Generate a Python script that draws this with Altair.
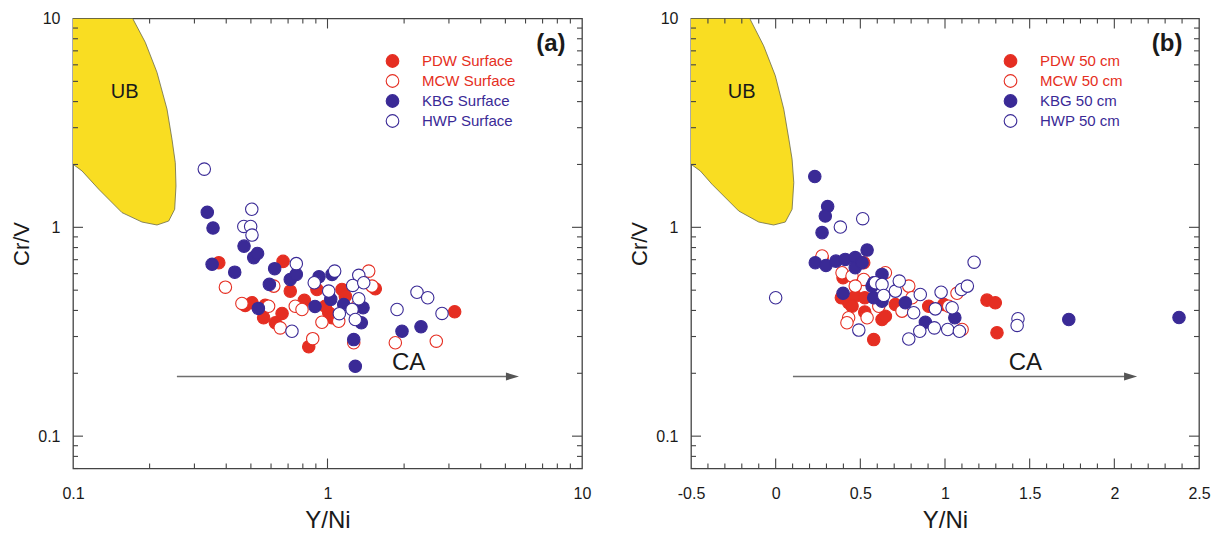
import altair as alt
import pandas as pd

FONT = "Liberation Sans"
RED = "#E52E22"
BLUE = "#3A2A96"
YELLOW = "#F9DD22"
GRAY = "#444444"
TXT = "#1a1a1a"

# ---------------- panel (a): surface samples ----------------
names_a = ["PDW Surface", "MCW Surface", "KBG Surface", "HWP Surface"]
a_pdw_x = [0.374, 0.475, 0.505, 0.569, 0.561, 0.624, 0.663, 0.669, 0.714, 0.811, 0.844, 0.909, 1.011, 1.042, 1.14, 1.175, 1.541, 3.16, 0.98]
a_pdw_y = [0.677, 0.423, 0.435, 0.423, 0.369, 0.349, 0.387, 0.687, 0.495, 0.447, 0.268, 0.504, 0.390, 0.369, 0.504, 0.468, 0.508, 0.394, 0.419]
a_mcw_x = [0.397, 0.461, 0.652, 0.615, 0.747, 0.951, 0.875, 1.107, 1.452, 1.496, 1.268, 1.847, 2.676, 1.306, 0.587, 0.794]
a_mcw_y = [0.517, 0.432, 0.330, 0.523, 0.419, 0.351, 0.293, 0.355, 0.617, 0.523, 0.280, 0.280, 0.285, 0.419, 0.419, 0.404]
a_kbg_x = [0.337, 0.355, 0.352, 0.432, 0.470, 0.513, 0.531, 0.535, 0.620, 0.591, 0.714, 0.754, 0.893, 0.926, 1.03, 1.158, 1.379, 1.358, 1.268, 1.286, 1.962, 2.33, 1.042]
a_kbg_y = [1.18, 0.992, 0.665, 0.610, 0.813, 0.716, 0.750, 0.409, 0.634, 0.533, 0.563, 0.595, 0.418, 0.580, 0.452, 0.427, 0.412, 0.349, 0.290, 0.216, 0.318, 0.334, 0.595]
a_hwp_x = [0.328, 0.504, 0.469, 0.499, 0.505, 0.754, 0.725, 0.887, 1.067, 1.011, 1.113, 1.327, 1.256, 1.388, 1.327, 1.249, 1.286, 1.876, 2.247, 2.476, 2.818]
a_hwp_y = [1.90, 1.22, 1.01, 1.01, 0.918, 0.670, 0.318, 0.543, 0.617, 0.495, 0.386, 0.589, 0.527, 0.543, 0.455, 0.404, 0.362, 0.404, 0.489, 0.460, 0.387]

# ---------------- panel (b): 50 cm samples ----------------
names_b = ["PDW 50 cm", "MCW 50 cm", "KBG 50 cm", "HWP 50 cm"]
b_pdw_x = [0.274, 0.398, 0.388, 0.431, 0.470, 0.526, 0.526, 0.579, 0.628, 0.648, 0.707, 0.904, 0.993, 1.248, 1.297, 1.307, 0.520, 0.451]
b_pdw_y = [0.716, 0.574, 0.460, 0.435, 0.468, 0.460, 0.393, 0.290, 0.362, 0.375, 0.427, 0.419, 0.427, 0.448, 0.435, 0.313, 0.677, 0.419]
b_mcw_x = [0.392, 0.451, 0.520, 0.648, 0.786, 0.431, 0.421, 0.540, 0.746, 1.101, 1.071, 0.805, 0.470, 0.274, 0.609, 1.022]
b_mcw_y = [0.606, 0.584, 0.563, 0.606, 0.523, 0.369, 0.349, 0.369, 0.397, 0.324, 0.483, 0.460, 0.523, 0.729, 0.419, 0.419]
b_kbg_x = [0.231, 0.307, 0.293, 0.274, 0.234, 0.297, 0.356, 0.411, 0.470, 0.540, 0.470, 0.510, 0.398, 0.569, 0.628, 0.628, 0.579, 0.766, 0.884, 1.058, 1.731, 2.382, 0.579]
b_kbg_y = [1.75, 1.257, 1.133, 0.943, 0.677, 0.657, 0.689, 0.702, 0.716, 0.778, 0.641, 0.677, 0.483, 0.523, 0.595, 0.443, 0.460, 0.435, 0.351, 0.369, 0.362, 0.370, 0.543]
b_hwp_x = [0.0, 0.382, 0.514, 0.491, 0.589, 0.628, 0.638, 0.707, 0.730, 0.815, 0.854, 0.786, 0.851, 0.937, 0.943, 0.977, 1.016, 1.042, 1.085, 1.097, 1.132, 1.172, 1.431, 1.426]
b_hwp_y = [0.460, 1.003, 1.10, 0.322, 0.543, 0.533, 0.472, 0.495, 0.553, 0.390, 0.477, 0.292, 0.318, 0.330, 0.407, 0.489, 0.324, 0.412, 0.318, 0.504, 0.523, 0.681, 0.365, 0.339]

# ---------------- UB field outlines ----------------
ub_a_x = [0.1, 0.1716, 0.1923, 0.2138, 0.2341, 0.2449, 0.2523, 0.2539, 0.2509, 0.2377, 0.2138, 0.1867, 0.1558, 0.1262, 0.1085, 0.1]
ub_a_y = [10, 10, 7.69, 5.52, 3.68, 2.64, 2.04, 1.578, 1.22, 1.072, 1.026, 1.060, 1.176, 1.522, 1.862, 2.005]
ub_b_x = [-0.5, -0.153, -0.071, -0.002, 0.048, 0.078, 0.097, 0.107, 0.097, 0.057, -0.012, -0.100, -0.218, -0.376, -0.445, -0.5]
ub_b_y = [10, 10, 7.40, 5.32, 3.68, 2.64, 2.12, 1.638, 1.22, 1.060, 1.026, 1.060, 1.197, 1.608, 1.862, 2.005]

# ---------------- annotations ----------------
ub_a_pos = (0.1597, 4.44)
ub_b_pos = (-0.2005, 4.44)
ca_a_pos = (2.085, 0.225)
ca_b_pos = (1.475, 0.225)
tag_a_pos = (7.55, 7.55)
tag_b_pos = (2.312, 7.55)
arrow_a_x = [0.256, 5.33]
arrow_b_x = [0.102, 2.096]
arrow_y = [0.193, 0.193]

# ---------------- tick values ----------------
y_labels = [0.1, 1, 10]
y_major = [0.1, 1]
y_minor = [0.07, 0.08, 0.09, 0.2, 0.3, 0.4, 0.5, 0.6, 0.7, 0.8, 0.9, 2, 3, 4, 5, 6, 7, 8, 9]
xa_labels = [0.1, 1, 10]
xa_major = [1]
xa_minor = [0.2, 0.3, 0.4, 0.5, 0.6, 0.7, 0.8, 0.9, 2, 3, 4, 5, 6, 7, 8, 9]
xb_labels = [-0.5, 0, 0.5, 1, 1.5, 2, 2.5]
xb_major = [0, 0.5, 1, 1.5, 2]
xb_minor = [-0.4, -0.3, -0.2, -0.1, 0.1, 0.2, 0.3, 0.4, 0.6, 0.7, 0.8, 0.9,
            1.1, 1.2, 1.3, 1.4, 1.6, 1.7, 1.8, 1.9, 2.1, 2.2, 2.3, 2.4]

H = 450
W_A = 509
W_B = 508
MAJ = 10
MIN = 5

yscale = alt.Scale(type="log", domain=[0.07, 10], nice=False)


def panel(xscale, names, xs, ys, ub_x, ub_y, ub_pos, ca_pos, arrow_x, tag_pos, tag,
          x_labels, x_major, x_minor, width, legend_x):
    rows = []
    for n, xx, yy in zip(names, xs, ys):
        for a, b in zip(xx, yy):
            rows.append({"x": a, "y": b, "series": n})
    df = pd.DataFrame(rows)

    xaxis = alt.Axis(title="Y/Ni", values=x_labels, format="~g",
                     labelExpr="replace(datum.label, '\u2212', '-')")
    yaxis = alt.Axis(title="Cr/V", values=y_labels, format="~g")

    def X(f="x"):
        return alt.X(f"{f}:Q", scale=xscale, axis=xaxis)

    def Y(f="y"):
        return alt.Y(f"{f}:Q", scale=yscale, axis=yaxis)

    poly = alt.Chart(pd.DataFrame({"x": ub_x, "y": ub_y, "i": list(range(len(ub_x)))})).mark_line(
        fill=YELLOW, stroke="#6b6b4a", strokeWidth=0.8, clip=True
    ).encode(x=X(), y=Y(), order="i:Q")

    def label(pos, text, size, weight="normal"):
        return alt.Chart(pd.DataFrame({"x": [pos[0]], "y": [pos[1]], "t": [text]})).mark_text(
            font=FONT, fontSize=size, fontWeight=weight, color=TXT
        ).encode(x=X(), y=Y(), text="t:N")

    arrow = alt.Chart(pd.DataFrame({"x": arrow_x, "y": arrow_y})).mark_line(
        color="#6e6e6e", strokeWidth=1.4
    ).encode(x=X(), y=Y())
    head = alt.Chart(pd.DataFrame({"x": [arrow_x[1]], "y": [arrow_y[1]]})).mark_point(
        shape="M -1 -0.6 L 1 0 L -1 0.6 Z", size=170, filled=True, color="#555555", opacity=1
    ).encode(x=X(), y=Y())

    leg = alt.Legend(
        title=None, orient="none", legendX=legend_x, legendY=35, padding=0,
        symbolType="circle", symbolSize=160, symbolStrokeWidth=1.1,
        labelFont=FONT, labelFontSize=15, labelOffset=22, rowPadding=1,
        labelColor=alt.ExprRef(expr=f"indexof(datum.label, 'PDW') >= 0 || indexof(datum.label, 'MCW') >= 0 ? '{RED}' : '{BLUE}'"),
    )
    pts = alt.Chart(df).mark_circle(size=155, opacity=1, strokeWidth=1.1).encode(
        x=X(), y=Y(),
        fill=alt.Fill("series:N", scale=alt.Scale(domain=names, range=[RED, "white", BLUE, "white"]), legend=leg),
        stroke=alt.Stroke("series:N", scale=alt.Scale(domain=names, range=[RED, RED, BLUE, BLUE]), legend=leg),
    )

    tick_layers = []
    for vals, ln in ((x_major, MAJ), (x_minor, MIN)):
        base = alt.Chart(pd.DataFrame({"x": vals})).mark_rule(color=GRAY, strokeWidth=1.1)
        tick_layers.append(base.encode(x=X(), y=alt.value(H), y2=alt.value(H - ln)))
        tick_layers.append(base.encode(x=X(), y=alt.value(0), y2=alt.value(ln)))
    for vals, ln in ((y_major, MAJ), (y_minor, MIN)):
        base = alt.Chart(pd.DataFrame({"y": vals})).mark_rule(color=GRAY, strokeWidth=1.1)
        tick_layers.append(base.encode(y=Y(), x=alt.value(0), x2=alt.value(ln)))
        tick_layers.append(base.encode(y=Y(), x=alt.value(width), x2=alt.value(width - ln)))

    layers = [poly, label(ub_pos, "UB", 20), arrow, head, label(ca_pos, "CA", 24),
              label(tag_pos, tag, 24, "bold"), pts] + tick_layers
    return alt.layer(*layers).properties(width=width, height=H)


xscale_a = alt.Scale(type="log", domain=[0.1, 10], nice=False)
xscale_b = alt.Scale(type="linear", domain=[-0.5, 2.5], nice=False, zero=False)

pa = panel(xscale_a, names_a, [a_pdw_x, a_mcw_x, a_kbg_x, a_hwp_x], [a_pdw_y, a_mcw_y, a_kbg_y, a_hwp_y],
           ub_a_x, ub_a_y, ub_a_pos, ca_a_pos, arrow_a_x, tag_a_pos, "(a)",
           xa_labels, xa_major, xa_minor, W_A, 312)
pb = panel(xscale_b, names_b, [b_pdw_x, b_mcw_x, b_kbg_x, b_hwp_x], [b_pdw_y, b_mcw_y, b_kbg_y, b_hwp_y],
           ub_b_x, ub_b_y, ub_b_pos, ca_b_pos, arrow_b_x, tag_b_pos, "(b)",
           xb_labels, xb_major, xb_minor, W_B, 312)

chart = alt.hconcat(pa, pb, spacing=109, bounds="flush").resolve_scale(
    fill="independent", stroke="independent"
).resolve_legend(fill="independent", stroke="independent").properties(
    padding={"left": 2, "top": 1.5, "right": 0, "bottom": 0}, background="white"
).configure_view(stroke=GRAY, strokeWidth=1.3).configure_axis(
    grid=False, ticks=False, tickSize=0, domain=False,
    labelFont=FONT, labelFontSize=16, labelColor=TXT, labelFlush=False, labelOverlap=False,
    titleFont=FONT, titleFontWeight="normal", titleColor=TXT,
).configure_axisX(labelPadding=17, titlePadding=7, titleFontSize=24).configure_axisY(
    labelPadding=13, titlePadding=4, titleFontSize=22)

chart.save("out.html", embed_options={"renderer": "svg", "actions": False})
